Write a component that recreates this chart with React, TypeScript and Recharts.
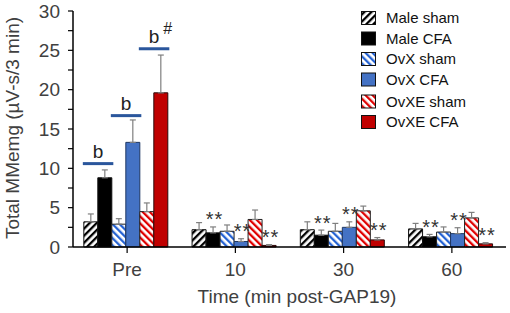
import React from 'react';
import { BarChart, Bar, XAxis, YAxis, ErrorBar, LabelList } from 'recharts';

const categories = ['Pre', '10', '30', '60'];
const maleSham = [3.2, 2.2, 2.2, 2.3];
const maleShamErr = [1.0, 0.9, 1.0, 0.7];
const maleCFA = [8.8, 1.8, 1.5, 1.3];
const maleCFAErr = [1.0, 0.75, 0.65, 0.3];
const ovxSham = [2.9, 2.0, 2.0, 1.9];
const ovxShamErr = [0.7, 0.8, 1.0, 0.65];
const ovxCFA = [13.3, 0.7, 2.5, 1.7];
const ovxCFAErr = [2.85, 0.35, 0.7, 0.75];
const ovxeSham = [4.5, 3.5, 4.6, 3.7];
const ovxeShamErr = [1.1, 1.2, 0.6, 0.7];
const ovxeCFA = [19.6, 0.2, 0.9, 0.4];
const ovxeCFAErr = [4.8, 0.1, 0.3, 0.15];
const yTicks = [0, 2.5, 5, 7.5, 10, 12.5, 15, 17.5, 20, 22.5, 25, 27.5, 30];
const sigMaleCFA = 10.6;
const sigOvxCFA = 16.7;
const sigOvxeCFA = 25.2;
const sigLabel = 'b';
const hashLabel = '#';
const postMarks = ['', '**', '**', '**'];
const seriesNames = ['Male sham', 'Male CFA', 'OvX sham', 'OvX CFA', 'OvXE sham', 'OvXE CFA'];

const FONT = "'Liberation Sans', Arial, Helvetica, sans-serif";
const TXT = '#404040';

const data = categories.map((c, i) => ({
  cat: c,
  maleSham: maleSham[i],
  maleShamErr: [0, maleShamErr[i]],
  maleCFA: maleCFA[i],
  maleCFAErr: [0, maleCFAErr[i]],
  ovxSham: ovxSham[i],
  ovxShamErr: [0, ovxShamErr[i]],
  ovxCFA: ovxCFA[i],
  ovxCFAErr: [0, ovxCFAErr[i]],
  ovxeSham: ovxeSham[i],
  ovxeShamErr: [0, ovxeShamErr[i]],
  ovxeCFA: ovxeCFA[i],
  ovxeCFAErr: [0, ovxeCFAErr[i]],
}));

const fills = ['url(#pMale)', '#000000', 'url(#pOvx)', '#4472C4', 'url(#pOvxe)', '#C00000'];
const strokes = ['#111111', '#111111', '#222222', '#1F3864', '#222222', '#2a0a0a'];
const legendY = [18, 38.5, 59, 79.5, 101.5, 122];

const makeMarks = (errs: number[], level: number, hash: boolean) => (props: any) => {
  const vb = props.viewBox || {};
  const x = props.x ?? vb.x;
  const y = props.y ?? vb.y;
  const width = props.width ?? vb.width;
  const height = props.height ?? vb.height;
  const index = props.index ?? 0;
  const v = Number(props.value);
  if (!v || !height) return <g />;
  const ppu = height / v;
  const base = y + height;
  const errTop = y - errs[index] * ppu;
  const items: any[] = [];
  if (postMarks[index]) {
    items.push(
      <text key="ast" x={x + width / 2 + 1.5} y={errTop - 0.5} textAnchor="middle" fontSize={20}
        fontFamily={FONT} fill="#333" letterSpacing={1}>{postMarks[index]}</text>
    );
  }
  if (index === 0) {
    const ly = base - level * ppu;
    const x1 = x - width - 1;
    const x2 = x + width + 1.5;
    items.push(<line key="ln" x1={x1} x2={x2} y1={ly} y2={ly} stroke="#2A569C" strokeWidth={3} />);
    items.push(
      <text key="b" x={(x1 + x2) / 2} y={ly - 6} textAnchor="middle" fontSize={19} fontFamily={FONT} fill="#222">{sigLabel}</text>
    );
    if (hash) {
      items.push(
        <text key="h" x={x + width} y={ly - 14.5} textAnchor="middle" fontSize={16} fontFamily={FONT} fill="#222">{hashLabel}</text>
      );
    }
  }
  return <g>{items}</g>;
};

const YTick = (props: any) => {
  const { x, y, payload } = props;
  if (payload.value % 5 !== 0) return <g />;
  return (
    <text x={x} y={y} dy="0.35em" textAnchor="end" fontSize={19} fontFamily={FONT} fill={TXT}>
      {payload.value}
    </text>
  );
};

export default function App() {
  return (
    <div style={{ position: 'absolute', left: 0, top: 0, background: '#fff' }}>
      <BarChart width={510} height={313} data={data} margin={{ top: 11, right: 4, left: 0, bottom: 0 }}
        barCategoryGap="10%" barGap={0}>
        <defs>
          <pattern id="pMale" patternUnits="userSpaceOnUse" width={5} height={5} patternTransform="rotate(45)">
            <rect width={5} height={5} fill="#ffffff" />
            <rect width={2.3} height={5} fill="#000000" />
          </pattern>
          <pattern id="pOvx" patternUnits="userSpaceOnUse" width={5} height={5} patternTransform="rotate(-45)">
            <rect width={5} height={5} fill="#ffffff" />
            <rect width={2.3} height={5} fill="#2563D4" />
          </pattern>
          <pattern id="pOvxe" patternUnits="userSpaceOnUse" width={5} height={5} patternTransform="rotate(-45)">
            <rect width={5} height={5} fill="#ffffff" />
            <rect width={2.3} height={5} fill="#E00000" />
          </pattern>
        </defs>
        <g className="custom-legend">
          {seriesNames.map((n, i) => (
            <g key={n}>
              <rect x={361.5} y={legendY[i] - 6.5} width={14} height={13} fill={fills[i]} stroke="#111" strokeWidth={1} />
              <text x={386} y={legendY[i]} dy="0.35em" fontSize={15} fontFamily={FONT} fill="#111">{n}</text>
            </g>
          ))}
        </g>
        <XAxis dataKey="cat" interval={0} tickSize={6} tickMargin={10} height={66}
          axisLine={{ stroke: '#000', strokeWidth: 1.5 }} tickLine={{ stroke: '#000', strokeWidth: 1.2 }}
          tick={{ fontSize: 19, fill: TXT, fontFamily: FONT }}
          label={{
            content: () => (
              <text x={297} y={303} textAnchor="middle" fontSize={19} fontFamily={FONT} fill={TXT}>
                Time (min post-GAP19)
              </text>
            ),
          }}
        />
        <YAxis domain={[0, 30]} ticks={yTicks} interval={0} width={73} tickSize={5} tickMargin={8}
          axisLine={{ stroke: '#000', strokeWidth: 1.5 }} tickLine={{ stroke: '#000', strokeWidth: 1.2 }}
          tick={<YTick />}
          label={{
            content: () => (
              <text transform="translate(18.5,128) rotate(-90)" textAnchor="middle" fontSize={19} fontFamily={FONT} fill={TXT}>
                Total MMemg (µV-s/3 min)
              </text>
            ),
          }}
        />
        <Bar dataKey="maleSham" name={seriesNames[0]} fill={fills[0]} stroke={strokes[0]} strokeWidth={1} isAnimationActive={false}>
          <ErrorBar dataKey="maleShamErr" width={3} stroke="#7f7f7f" strokeWidth={1.2} />
        </Bar>
        <Bar dataKey="maleCFA" name={seriesNames[1]} fill={fills[1]} stroke={strokes[1]} strokeWidth={1} isAnimationActive={false}>
          <ErrorBar dataKey="maleCFAErr" width={3} stroke="#7f7f7f" strokeWidth={1.2} />
          <LabelList dataKey="maleCFA" content={makeMarks(maleCFAErr, sigMaleCFA, false)} />
        </Bar>
        <Bar dataKey="ovxSham" name={seriesNames[2]} fill={fills[2]} stroke={strokes[2]} strokeWidth={1} isAnimationActive={false}>
          <ErrorBar dataKey="ovxShamErr" width={3} stroke="#7f7f7f" strokeWidth={1.2} />
        </Bar>
        <Bar dataKey="ovxCFA" name={seriesNames[3]} fill={fills[3]} stroke={strokes[3]} strokeWidth={1} isAnimationActive={false}>
          <ErrorBar dataKey="ovxCFAErr" width={3} stroke="#7f7f7f" strokeWidth={1.2} />
          <LabelList dataKey="ovxCFA" content={makeMarks(ovxCFAErr, sigOvxCFA, false)} />
        </Bar>
        <Bar dataKey="ovxeSham" name={seriesNames[4]} fill={fills[4]} stroke={strokes[4]} strokeWidth={1} isAnimationActive={false}>
          <ErrorBar dataKey="ovxeShamErr" width={3} stroke="#7f7f7f" strokeWidth={1.2} />
        </Bar>
        <Bar dataKey="ovxeCFA" name={seriesNames[5]} fill={fills[5]} stroke={strokes[5]} strokeWidth={1} isAnimationActive={false}>
          <ErrorBar dataKey="ovxeCFAErr" width={3} stroke="#7f7f7f" strokeWidth={1.2} />
          <LabelList dataKey="ovxeCFA" content={makeMarks(ovxeCFAErr, sigOvxeCFA, true)} />
        </Bar>
      </BarChart>
    </div>
  );
}
